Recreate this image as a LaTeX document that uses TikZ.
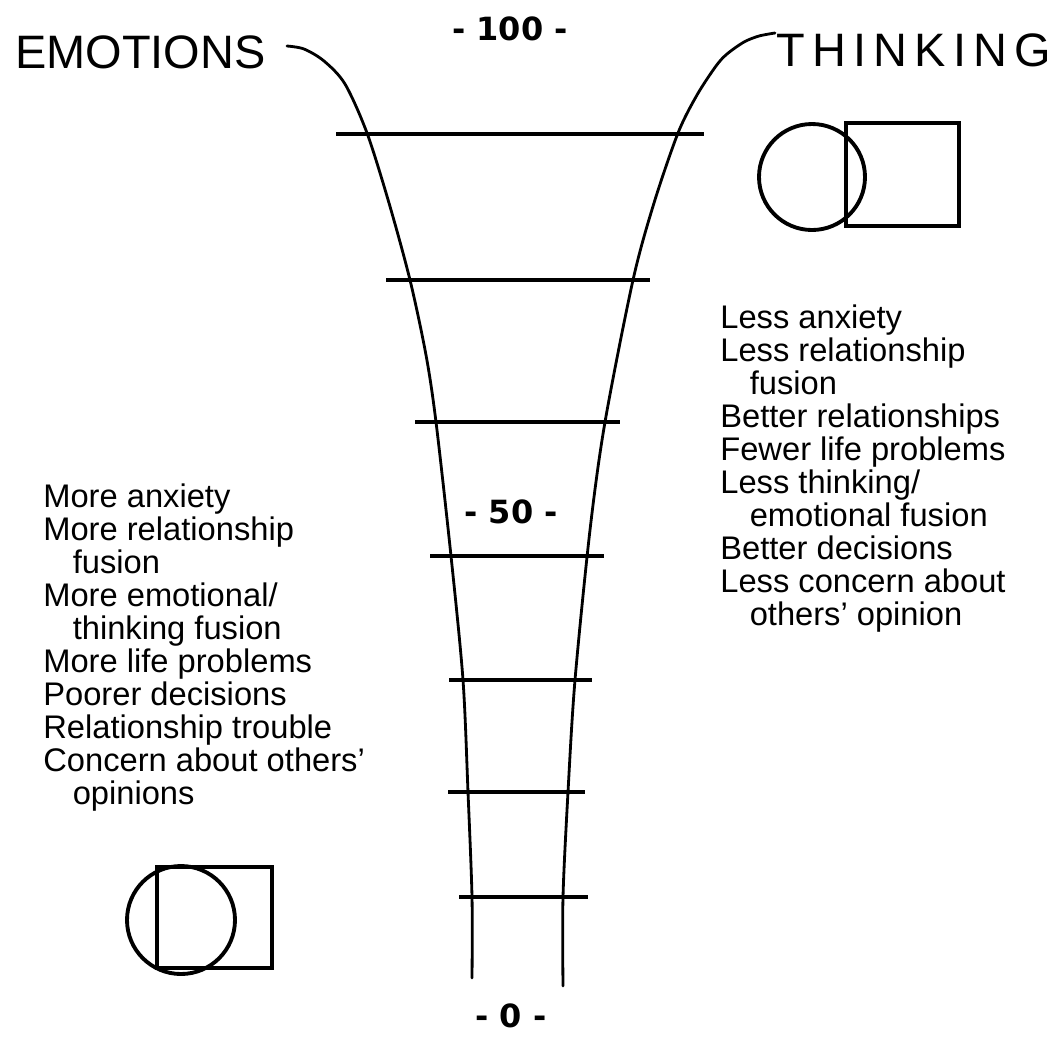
\documentclass[tikz,border=0pt]{standalone}
\usepackage{fontspec}
\setmainfont{Liberation Sans}
\newfontfamily\markfont{DejaVu Sans}[BoldFont={DejaVu Sans Bold}]
\newfontfamily\spacedfont{Liberation Sans}[LetterSpace=15.5]
\tikzset{
    rail/.style={line width=1.6pt, line cap=round},
    rung/.style={line width=2.8pt},
    glyph/.style={draw, line width=2.2pt},
    heading/.style={font=\fontsize{26.7}{30}\selectfont, inner sep=0pt, anchor=base west},
    scale mark/.style={font=\markfont\bfseries\fontsize{18.2}{20}\selectfont,
                       inner sep=0pt, anchor=base},
    trait list/.style={font=\fontsize{18.6}{18.8}\selectfont, align=left,
                       inner sep=0pt, anchor=north west},
}

\begin{document}
\begin{tikzpicture}[x=0.02cm, y=-0.02cm]
\useasboundingbox (0,0) rectangle (1058,1036);

% ---------------------------------------------------------------------------
% Headings and scale marks
% ---------------------------------------------------------------------------
\node[heading] (emotions) at (15,68) {EMOTIONS};
\node[heading, font=\spacedfont\fontsize{26.7}{30}\selectfont] (thinking) at (776,66) {THINKING};

\node[scale mark] (mark100) at (510,40) {- 100 -};
\node[scale mark] (mark50) at (511,523) {- 50 -};
\node[scale mark] (mark0) at (511,1027) {- 0 -};

% ---------------------------------------------------------------------------
% Funnel
% ---------------------------------------------------------------------------
\draw[rail] plot[smooth, tension=0.5] coordinates {
    (287,46) (304,49) (324,61) (345,84) (367,133) (389,203) (410,280)
    (426,355) (436,422) (451,556) (463,680) (468,792) (472,897) (472,978)};
\draw[rail] plot[smooth, tension=0.5] coordinates {
    (775,33) (759,36) (744,42) (727,54) (716,66) (697,95) (678,133) (654,203)
    (633,280) (605,422) (590,530) (575,680) (568,792) (563,897) (563,986)};

\foreach \y/\xa/\xb in {134/336/704, 280/386/650, 422/415/620, 556/430/604,
                        680/449/592, 792/448/585, 897/459/588}
    \draw[rung] (\xa,\y) -- (\xb,\y);

% ---------------------------------------------------------------------------
% Circle and square figures
% ---------------------------------------------------------------------------
\draw[glyph] (846,123) rectangle (959,226);
\draw[glyph] (812,177) circle[radius=53];

\draw[glyph] (157,867) rectangle (272,968);
\draw[glyph] (181,920) circle[radius=54];

% ---------------------------------------------------------------------------
% Trait lists
% ---------------------------------------------------------------------------
\node[trait list] (lessList) at (720,304)
    {Less anxiety\\
     Less relationship\\
     \hspace*{0.9em}fusion\\
     Better relationships\\
     Fewer life problems\\
     Less thinking/\\
     \hspace*{0.9em}emotional fusion\\
     Better decisions\\
     Less concern about\\
     \hspace*{0.9em}others' opinion};

\node[trait list] (moreList) at (43,483)
    {More anxiety\\
     More relationship\\
     \hspace*{0.9em}fusion\\
     More emotional/\\
     \hspace*{0.9em}thinking fusion\\
     More life problems\\
     Poorer decisions\\
     Relationship trouble\\
     Concern about others'\\
     \hspace*{0.9em}opinions};

\end{tikzpicture}
\end{document}
